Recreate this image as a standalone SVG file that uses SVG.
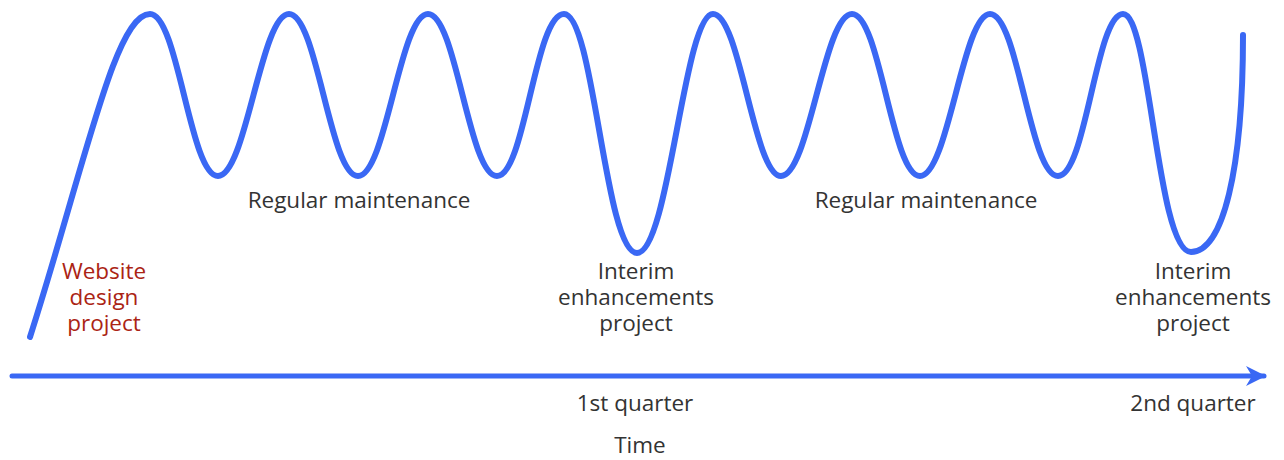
<svg xmlns="http://www.w3.org/2000/svg" width="1284" height="460" viewBox="0 0 1284 460">
<defs>
<style>
.t{font-family:"Open Sans","Noto Sans","Liberation Sans",sans-serif;font-size:22.5px;fill:#333;text-anchor:middle}
.r{fill:#ab2414}
.wave{fill:none;stroke:#3a68f4;stroke-width:6;stroke-linecap:round;stroke-linejoin:round}
.axis{fill:none;stroke:#3a68f4;stroke-width:5;stroke-linecap:round}
</style>
<marker id="ah" viewBox="0 0 10 10" refX="9" refY="5" markerWidth="5" markerHeight="4" orient="auto" markerUnits="strokeWidth">
<path d="M0,0 L10,5 L0,10 L3,5 Z" fill="#3a68f4"/>
</marker>
</defs>
<rect width="1284" height="460" fill="#fff"/>
<g id="connectors">
<path id="wave" class="wave" d="M30,337 C85,165 115,14 150,14
C178,14 190,176 218,176 C246,176 261,14 289,14
C317,14 330,176 358,176 C386,176 400,14 428,14
C456,14 469,176 497,176 C525,176 535,14 564,14
C594,14 605,253 637,253 C669,253 684,14 713,14
C740,14 754,176 781,176 C809,176 824,14 852,14
C880,14 892,176 920,176 C948,176 963,14 990,14
C1018,14 1030,176 1058,176 C1086,176 1096,14 1123,14
C1150,14 1157,252 1191,252 C1223,252 1243,170 1243,35"/>
<line id="time-axis" class="axis" x1="12" y1="376" x2="1264" y2="376" marker-end="url(#ah)"/>
</g>
<g id="website-design">
<text class="t r" x="104" y="279">Website<tspan x="104" dy="26">design</tspan><tspan x="104" dy="26">project</tspan></text>
</g>
<g id="maintenance-1"><text class="t" x="359" y="208">Regular maintenance</text></g>
<g id="interim-1">
<text class="t" x="636" y="279">Interim<tspan x="636" dy="26">enhancements</tspan><tspan x="636" dy="26">project</tspan></text>
</g>
<g id="maintenance-2"><text class="t" x="926" y="208">Regular maintenance</text></g>
<g id="interim-2">
<text class="t" x="1193" y="279">Interim<tspan x="1193" dy="26">enhancements</tspan><tspan x="1193" dy="26">project</tspan></text>
</g>
<g id="q1"><text class="t" x="635" y="411">1st quarter</text></g>
<g id="q2"><text class="t" x="1193" y="411">2nd quarter</text></g>
<g id="time"><text class="t" x="640" y="453">Time</text></g>
</svg>
